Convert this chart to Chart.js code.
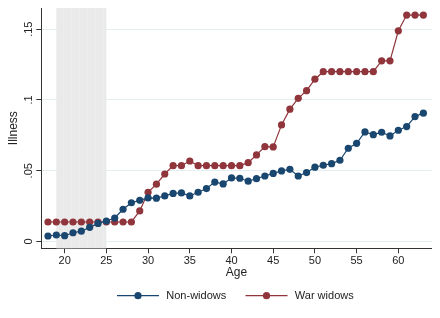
<!DOCTYPE html>
<html><head><meta charset="utf-8">
<script src="https://cdn.jsdelivr.net/npm/chart.js@4/dist/chart.umd.min.js"></script>
<style>html,body{margin:0;padding:0;background:#fff}canvas{display:block}</style>
</head><body>
<canvas id="c" width="440" height="318"></canvas>
<script>
const ages = [18,19,20,21,22,23,24,25,26,27,28,29,30,31,32,33,34,35,36,37,38,39,40,41,42,43,44,45,46,47,48,49,50,51,52,53,54,55,56,57,58,59,60,61,62,63];
const nonWidows = [0.0039,0.0046,0.0041,0.0062,0.0073,0.0100,0.0128,0.0145,0.0166,0.0228,0.0274,0.0291,0.0308,
  0.0306,0.0322,0.0340,0.0343,0.0322,0.0348,0.0374,0.0420,0.0407,0.0449,0.0447,0.0426,0.0444,0.0463,0.0481,
  0.0499,0.0510,0.0463,0.0487,0.0525,0.0539,0.0550,0.0574,0.0659,0.0694,0.0774,0.0755,0.0772,0.0746,0.0786,0.0812,0.0883,0.0907];
const warWidows = [0.0138,0.0138,0.0138,0.0138,0.0138,0.0138,0.0138,0.0138,0.0138,0.0138,0.0138,0.0216,0.0348,
  0.0405,0.0477,0.0536,0.0536,0.0569,0.0536,0.0536,0.0536,0.0536,0.0536,0.0536,0.0557,0.0612,0.0670,0.0668,
  0.0824,0.0935,0.1012,0.1066,0.1147,0.1200,0.1200,0.1200,0.1200,0.1200,0.1200,0.1200,0.1277,0.1277,0.1489,0.1600,0.1600,0.1600];
const xTicks = [20,25,30,35,40,45,50,55,60];
const yTicks = [0,0.05,0.1,0.15];
const yTickLabels = ['0','.05','.1','.15'];
const shadeRange = [19,25];
const seriesNames = ['Non-widows','War widows'];
const seriesColors = ['#1a476f','#90353b'];
const FONT = "'Liberation Sans', Arial, Helvetica, sans-serif";

const shadePlugin = {
  id:'shade',
  beforeDatasetsDraw(chart){
    const {ctx, chartArea:a, scales:{x}} = chart;
    const x0=x.getPixelForValue(shadeRange[0]), x1=x.getPixelForValue(shadeRange[1]);
    ctx.save();
    ctx.fillStyle='#e8e8e8';
    ctx.fillRect(x0,a.top,x1-x0,a.bottom-a.top);
    ctx.strokeStyle='#f0f0f0'; ctx.lineWidth=0.6;
    for(let xx=x0+0.8; xx<x1; xx+=1.6){ctx.beginPath(); ctx.moveTo(xx,a.top); ctx.lineTo(xx,a.bottom); ctx.stroke();}
    ctx.restore();
  }
};

// Stata-style legend: line sample with a marker, then label
const legendPlugin = {
  id:'stataLegend',
  afterDraw(chart){
    const {ctx, chartArea:a} = chart;
    const sw = 42, gapText = 7.3, gapItem = 19.3, cy = 295.7;
    ctx.save();
    ctx.font = '11px ' + FONT;
    const widths = chart.data.datasets.map(d=>ctx.measureText(d.label).width);
    let total = 0;
    widths.forEach((w,i)=>{ total += sw + gapText + w + (i<widths.length-1?gapItem:0); });
    let x = Math.round((a.left + a.right)/2 - 1.5 - total/2);
    chart.data.datasets.forEach((d,i)=>{
      const col = d.borderColor;
      ctx.strokeStyle = col; ctx.lineWidth = 1.2;
      ctx.beginPath(); ctx.moveTo(x, cy); ctx.lineTo(x+sw, cy); ctx.stroke();
      ctx.fillStyle = col; ctx.beginPath(); ctx.arc(x+sw/2, cy, 3.6, 0, Math.PI*2); ctx.fill();
      ctx.fillStyle = '#222'; ctx.textBaseline = 'middle'; ctx.textAlign = 'left';
      ctx.fillText(d.label, x+sw+gapText, cy);
      x += sw + gapText + widths[i] + gapItem;
    });
    ctx.restore();
  }
};

const makeDs = (i, vals) => ({
  label: seriesNames[i],
  data: ages.map((a,k)=>({x:a,y:vals[k]})),
  borderColor: seriesColors[i],
  backgroundColor: seriesColors[i],
  pointBackgroundColor: seriesColors[i],
  pointBorderWidth: 0,
  pointRadius: 3.6,
  pointStyle: 'circle',
  borderWidth: 1.2,
  tension: 0
});

new Chart(document.getElementById('c'), {
  type:'line',
  data:{datasets:[makeDs(0,nonWidows), makeDs(1,warWidows)]},
  plugins:[shadePlugin, legendPlugin],
  options:{
    responsive:false, animation:false, events:[],
    layout:{padding:{left:0,right:8.3,top:8,bottom:38}},
    plugins:{ legend:{display:false}, tooltip:{enabled:false} },
    scales:{
      x:{type:'linear', min:17.2, max:64,
        afterBuildTicks:s=>{s.ticks=xTicks.map(v=>({value:v}));},
        grid:{drawOnChartArea:false, tickLength:5, tickColor:'#333', tickWidth:1},
        border:{color:'#333', width:1},
        ticks:{color:'#222', font:{family:FONT,size:11}, padding:1, maxRotation:0, autoSkip:false},
        title:{display:true, text:'Age', color:'#222', font:{family:FONT,size:12}, padding:{top:0,bottom:0}},
        afterFit:s=>{s.height=31.7;}
      },
      y:{min:-0.0048, max:0.165,
        afterBuildTicks:s=>{s.ticks=yTicks.map(v=>({value:v}));},
        grid:{color:'#e4eef0', tickLength:5, tickColor:'#333', tickWidth:1, lineWidth:1},
        border:{color:'#333', width:1},
        ticks:{color:'#222', font:{family:FONT,size:11}, padding:0, minRotation:90, maxRotation:90, crossAlign:'center',
          callback:(v)=>{const i=yTicks.findIndex(t=>Math.abs(t-v)<1e-9); return i<0?'':yTickLabels[i];}},
        title:{display:true, text:'Illness', color:'#222', font:{family:FONT,size:12}, padding:{top:6,bottom:0}},
        afterFit:s=>{s.width=41.3;}
      }
    }
  }
});
</script>
</body></html>
